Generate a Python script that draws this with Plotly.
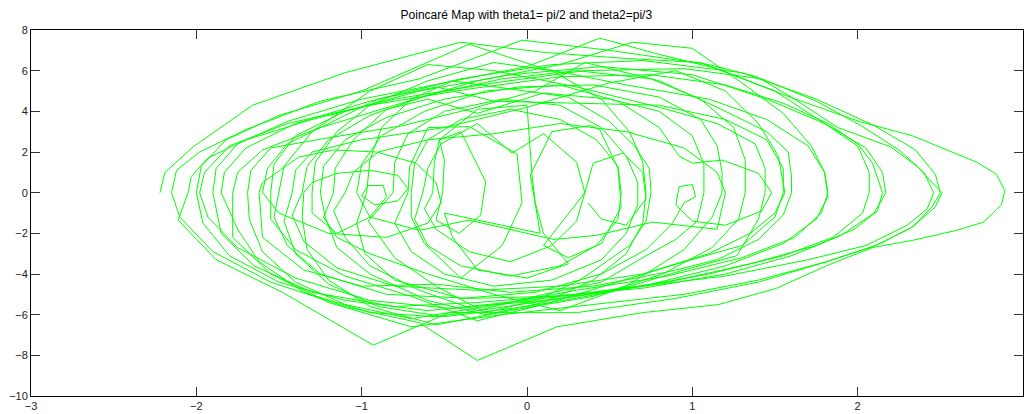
import plotly.graph_objects as go

# Trajectory, loop by loop: (theta1, omega1) pairs
loop01 = [(-2.22,0.0),(-2.19,1.0),(-2.02,2.25),(-1.66,4.3),(-1.1,5.9),(-0.4,7.4),(0.1,6.9),(0.6,6.6),(1.05,6.4),(1.59,4.7),(2.01,3.5),(2.33,2.8),(2.57,2.0),(2.72,1.5),(2.84,0.9),(2.89,0.1),(2.87,-0.6),(2.76,-1.45),(2.6,-1.85),(2.33,-2.35),(2.09,-2.7),(1.81,-3.6),(1.51,-4.7),(1.16,-5.5),(0.7,-5.9),(0.18,-6.6),(-0.3,-8.25),(-0.65,-6.4),(-1.1,-5.6),(-1.55,-4.4),(-1.9,-2.9),(-2.1,-1.2)]
loop02 = [(-2.15,0.0),(-2.12,1.1),(-1.98,2.0),(-1.7,3.1),(-1.25,4.5),(-0.65,5.6),(-0.03,7.5),(0.5,7.0),(1.1,6.3),(1.39,5.7),(1.6,4.7),(1.88,3.2),(2.2,2.25),(2.36,1.3),(2.45,0.5),(2.51,0.0),(2.47,-0.7),(2.33,-1.7),(2.11,-2.6),(1.81,-3.4),(1.4,-4.4),(0.9,-5.2),(0.3,-5.9),(-0.47,-5.9),(-0.93,-7.5),(-1.48,-4.9),(-1.88,-3.3),(-2.11,-1.35)]
loop03 = [(-2.05,0.0),(-2.03,0.8),(-1.93,1.7),(-1.7,2.6),(-1.3,3.6),(-0.8,4.6),(-0.2,5.4),(0.35,6.0),(0.95,6.1),(1.42,5.6),(1.75,4.5),(2.02,3.3),(2.25,2.1),(2.4,1.0),(2.46,0.0),(2.42,-0.8),(2.3,-1.6),(2.05,-2.6),(1.7,-3.3),(1.2,-4.1),(0.6,-4.7),(0.0,-5.3),(-0.6,-5.8),(-1.1,-5.3),(-1.5,-4.4),(-1.8,-3.1),(-1.96,-1.5)]
loop04 = [(-1.98,0.0),(-1.95,1.0),(-1.8,2.3),(-1.45,3.4),(-0.95,4.3),(-0.35,5.1),(0.2,5.7),(0.75,5.8),(1.2,5.3),(1.55,4.4),(1.82,3.4),(2.0,2.4),(2.09,1.45),(2.15,0.0),(2.12,-0.9),(1.98,-1.8),(1.75,-2.6),(1.35,-3.5),(0.85,-4.4),(0.3,-5.0),(-0.3,-5.4),(-0.8,-5.6),(-1.3,-4.9),(-1.65,-3.6),(-1.85,-2.0)]
loop05 = [(-1.9,0.0),(-1.88,1.2),(-1.75,2.4),(-1.45,3.5),(-1.0,4.6),(-0.5,5.4),(0.0,6.2),(0.44,7.6),(0.8,6.8),(1.15,6.1),(1.5,5.0),(1.8,3.4),(2.0,2.3),(2.07,1.0),(2.07,0.0),(2.03,-1.0),(1.85,-2.2),(1.55,-3.1),(1.1,-4.0),(0.55,-4.8),(-0.05,-5.5),(-0.55,-6.1),(-0.95,-5.9),(-1.35,-4.9),(-1.62,-3.4),(-1.75,-1.8)]
loop06 = [(-1.78,0.0),(-1.75,1.0),(-1.6,2.1),(-1.25,3.2),(-0.8,4.3),(-0.3,5.5),(0.2,6.3),(0.64,7.4),(1.0,7.1),(1.3,5.4),(1.55,3.9),(1.72,2.3),(1.8,1.0),(1.82,0.0),(1.78,-1.0),(1.62,-2.2),(1.3,-3.2),(0.85,-4.1),(0.3,-4.8),(-0.25,-5.6),(-0.7,-6.2),(-1.1,-5.5),(-1.4,-4.4),(-1.6,-2.9),(-1.68,-1.3)]
loop07 = [(-1.69,0.0),(-1.67,1.1),(-1.55,2.2),(-1.2,2.7),(-0.75,3.3),(-0.35,4.1),(0.05,5.0),(0.35,6.4),(0.8,5.5),(1.15,4.2),(1.45,3.0),(1.58,2.0),(1.6,0.8),(1.6,0.0),(1.55,-1.1),(1.4,-2.3),(1.15,-3.3),(0.85,-3.9),(0.4,-4.6),(-0.1,-4.9),(-0.55,-4.5),(-1.0,-4.6),(-1.35,-3.8),(-1.6,-2.2)]
loop08 = [(-1.6,0.0),(-1.57,1.2),(-1.45,2.4),(-1.2,3.4),(-0.9,4.6),(-0.55,5.2),(-0.2,4.5),(0.3,4.4),(0.8,4.3),(1.2,3.6),(1.45,2.6),(1.55,1.2),(1.55,0.0),(1.5,-1.2),(1.3,-2.6),(0.95,-3.4),(0.55,-4.4),(0.1,-5.5),(-0.3,-6.3),(-0.7,-5.1),(-1.1,-4.1),(-1.4,-2.8),(-1.55,-1.3)]
loop09 = [(-1.5,0.0),(-1.47,1.3),(-1.3,3.0),(-0.95,5.0),(-0.6,6.3),(-0.2,6.0),(0.3,5.2),(0.8,4.2),(1.15,3.4),(1.38,2.4),(1.44,1.2),(1.44,0.0),(1.4,-1.3),(1.27,-3.1),(0.95,-3.8),(0.5,-4.9),(0.0,-5.6),(-0.5,-6.1),(-0.9,-5.6),(-1.2,-4.5),(-1.4,-3.0),(-1.47,-1.4)]
loop10 = [(-1.36,0.0),(-1.33,1.3),(-1.2,2.6),(-0.95,3.8),(-0.6,4.8),(-0.15,5.6),(0.3,6.0),(0.75,5.6),(1.05,4.6),(1.25,3.2),(1.32,1.6),(1.32,0.0),(1.28,-1.3),(1.12,-2.7),(0.82,-4.0),(0.4,-5.1),(-0.1,-5.8),(-0.55,-6.5),(-0.95,-5.6),(-1.2,-4.3),(-1.33,-2.8),(-1.36,-1.2)]
loop11 = [(-1.3,0.0),(-1.28,1.5),(-1.15,3.0),(-0.95,4.3),(-0.6,5.5),(-0.2,6.4),(0.15,6.0),(0.45,4.6),(0.62,3.0),(0.7,1.5),(0.72,0.0),(0.7,-1.5),(0.6,-3.0),(0.4,-4.3),(0.1,-5.4),(-0.25,-6.0),(-0.6,-5.3),(-0.95,-4.0),(-1.15,-2.7),(-1.22,-1.2)]
loop12 = [(-1.17,0.0),(-1.16,1.2),(-1.05,2.6),(-0.85,4.1),(-0.6,4.6),(-0.3,3.9),(0.1,4.9),(0.5,4.6),(0.8,4.0),(1.0,2.8),(1.07,1.4),(1.07,0.0),(1.03,-1.4),(0.9,-2.3),(0.72,-3.1),(0.45,-4.4),(0.1,-5.0),(-0.3,-5.8),(-0.65,-4.8),(-0.95,-3.6),(-1.1,-2.2),(-1.17,-0.9)]
loop13 = [(-1.03,0.0),(-1.0,1.4),(-0.88,2.8),(-0.62,4.0),(-0.25,5.0),(0.2,5.3),(0.55,4.5),(0.8,3.2),(0.92,1.8),(1.0,1.45),(1.18,1.6),(1.4,0.95),(1.48,0.0),(1.42,-0.9),(1.2,-1.6),(1.0,-1.4),(0.9,-0.6),(0.92,0.3),(1.0,0.4),(1.02,-0.2),(0.95,-0.5),(0.88,-1.5),(0.72,-2.8),(0.45,-4.0),(0.05,-4.9),(-0.4,-5.2),(-0.8,-4.3),(-0.98,-3.0),(-1.03,-1.5)]
loop14 = [(-0.97,0.0),(-0.95,1.6),(-0.88,3.2),(-0.7,4.6),(-0.45,5.5),(-0.1,5.1),(0.25,4.7),(0.5,3.5),(0.65,2.3),(0.74,1.2),(0.75,0.0),(0.72,-1.4),(0.62,-2.6),(0.32,-4.3),(0.05,-5.3),(-0.25,-5.9),(-0.55,-4.6),(-0.8,-3.2),(-0.96,-1.4)]
loop15 = [(-0.81,0.0),(-0.8,1.5),(-0.72,2.9),(-0.5,4.0),(-0.15,4.6),(0.2,4.3),(0.45,3.2),(0.6,1.8),(0.67,0.5),(0.67,-0.6),(0.6,-2.0),(0.45,-3.3),(0.15,-4.3),(-0.2,-4.6),(-0.5,-4.0),(-0.7,-2.9),(-0.8,-1.5)]
loop16 = [(-0.7,0.0),(-0.68,1.4),(-0.6,2.6),(-0.4,3.6),(-0.1,4.1),(0.2,3.6),(0.42,2.6),(0.55,1.3),(0.57,0.0),(0.55,-1.3),(0.42,-2.6),(0.2,-3.6),(-0.1,-4.1),(-0.4,-3.6),(-0.6,-2.6),(-0.68,-1.3)]
loop17 = [(-0.63,0.0),(-0.6,1.2),(-0.52,2.4),(-0.3,3.4),(-0.09,1.95),(0.1,2.9),(0.3,1.5),(0.35,0.0),(0.3,-1.4),(0.15,-2.6),(-0.1,-3.4),(-0.35,-2.9),(-0.55,-1.8),(-0.62,-0.8)]
loop18 = [(-0.51,0.0),(-0.5,1.6),(-0.53,2.6),(-0.3,4.1),(0.0,4.3),(0.03,0.9),(0.05,-0.5),(0.1,-2.0),(0.25,-3.5),(0.0,-4.2),(-0.3,-3.8),(-0.45,-2.2),(-0.5,-1.0)]
loop19 = [(0.35,0.0),(0.4,1.45),(0.58,1.95),(0.7,1.0),(0.72,-0.3),(0.6,-1.6),(0.45,-1.3),(0.37,-0.5)]
loop20 = [(-2.0,0.0),(-1.97,1.3),(-1.82,2.6),(-1.5,3.8),(-1.0,5.0),(-0.35,7.3),(0.1,6.1),(0.6,5.3),(1.1,4.6),(1.45,3.6),(1.7,2.3),(1.8,1.0),(1.82,-0.2),(1.75,-1.3),(1.55,-2.5),(1.2,-3.6),(0.7,-4.6),(0.1,-5.3),(-0.45,-5.7),(-0.95,-5.3),(-1.4,-4.2),(-1.75,-2.7),(-1.93,-1.2)]
loop21 = [(-1.85,0.0),(-1.83,1.0),(-1.7,2.2),(-1.4,3.4),(-0.95,4.5),(-0.4,5.6),(0.15,6.3),(0.7,6.5),(1.3,5.9),(1.75,4.6),(2.1,3.3),(2.35,2.1),(2.47,0.9),(2.5,0.0),(2.45,-0.7),(2.33,-1.7),(2.11,-2.6),(1.81,-3.4),(1.4,-4.3),(0.95,-5.0),(0.4,-5.5),(-0.15,-6.0),(-0.7,-6.6),(-1.2,-5.4),(-1.55,-4.0),(-1.78,-2.2)]
loop22 = [(-1.55,0.0),(-1.53,1.4),(-1.4,2.8),(-1.1,4.0),(-0.65,5.0),(-0.1,5.8),(0.45,6.2),(1.0,5.8),(1.45,4.6),(1.8,3.4),(2.05,2.2),(2.15,1.0),(2.17,0.0),(2.1,-1.0),(1.9,-2.1),(1.6,-3.1),(1.2,-4.0),(0.7,-4.7),(0.15,-5.1),(-0.35,-5.2),(-0.85,-5.0),(-1.25,-4.0),(-1.45,-2.6),(-1.53,-1.2)]
loop23 = [(-1.42,0.0),(-1.4,1.1),(-1.3,2.0),(-1.0,2.6),(-0.5,3.2),(0.0,4.2),(0.5,5.4),(0.9,6.0),(1.2,5.0),(1.4,3.4),(1.52,1.8),(1.56,0.0),(1.5,-1.0),(1.35,-2.0),(1.1,-3.0),(0.7,-4.0),(0.2,-4.6),(-0.3,-4.8),(-0.8,-4.6),(-1.15,-3.7),(-1.35,-2.4),(-1.42,-1.1)]
loop24 = [(-1.25,0.0),(-1.23,1.3),(-1.1,2.6),(-0.85,3.7),(-0.5,4.6),(-0.05,5.2),(0.4,5.3),(0.8,4.7),(1.05,3.6),(1.15,2.3),(1.18,1.0),(1.18,0.0),(1.12,-1.2),(0.95,-2.8),(0.6,-4.6),(0.2,-5.8),(-0.2,-5.0),(-0.6,-4.0),(-0.95,-3.0),(-1.15,-2.2),(-1.23,-1.2)]
loop25 = [(-1.35,0.0),(-1.3,0.5),(-1.15,0.95),(-0.95,1.1),(-0.78,0.85),(-0.72,0.2),(-0.78,-0.4),(-0.92,-0.6),(-1.0,-0.15),(-0.96,0.35),(-0.87,0.35),(-0.85,-0.2),(-0.95,-1.2),(-1.15,-2.0),(-1.3,-1.0)]
low01 = [(-1.1,0.0),(-1.05,1.0),(-0.9,2.0),(-0.6,2.6),(-0.2,2.9),(0.2,3.4),(0.6,3.0),(0.95,2.2),(1.15,1.0),(1.2,0.0),(1.15,-1.8),(0.76,-1.45),(0.42,-2.1),(0.16,-2.3),(-0.35,-1.35),(-0.65,-1.85),(-0.95,-1.2)]
low02 = [(-1.62,0.0),(-1.6,0.5),(-1.38,1.75),(-1.17,2.1),(-0.91,2.0),(-0.67,1.45),(-0.55,0.5),(-0.52,-0.5),(-0.6,-1.5),(-0.85,-2.2),(-1.2,-2.0),(-1.5,-1.0)]
mid01 = [(-0.57,0.0),(-0.56,1.5),(-0.53,2.6),(-0.4,3.0),(-0.25,0.54),(-0.28,-1.1),(-0.41,-2.0),(-0.55,-1.35)]
mid02 = [(-0.72,0.0),(-0.71,1.27),(-0.6,3.2),(-0.35,3.25),(-0.06,1.9),(-0.03,-0.5),(-0.15,-2.6),(-0.4,-4.2),(-0.62,-2.5),(-0.7,-1.2)]
mid03 = [(0.08,-2.0),(0.02,0.87),(0.15,3.0),(0.38,3.3),(0.44,3.1),(0.55,1.2),(0.57,-0.7),(0.45,-2.5),(0.25,-3.2),(0.1,-2.6)]

loop_order = [loop01, loop02, loop03, loop20, loop04, loop05, loop21, loop06, loop07,
              low02, loop08, loop22, loop09, loop23, loop10, loop25, loop11, loop24,
              loop12, low01, loop13, loop14, loop15, mid02, loop16, loop17, mid01,
              loop18, mid03, loop19]

theta1 = [p[0] for lp in loop_order for p in lp]
omega1 = [p[1] for lp in loop_order for p in lp]

fig = go.Figure()
fig.add_trace(go.Scatter(x=theta1, y=omega1, mode="lines",
                         line=dict(color="#00ff00", width=1), showlegend=False,
                         hoverinfo="skip"))

axis_common = dict(showgrid=False, zeroline=False, showline=True, linecolor="#000000",
                   linewidth=1, mirror="allticks", ticks="inside", ticklen=9,
                   tickcolor="#333333", tickwidth=1,
                   tickfont=dict(family="Liberation Sans, Arial, sans-serif", size=11, color="#222222"))

fig.update_layout(
    width=1025, height=414,
    margin=dict(l=31, r=2, t=30, b=18),
    paper_bgcolor="white", plot_bgcolor="white",
    title=dict(text="Poincaré Map with theta1= pi/2 and theta2=pi/3",
               x=0.5135, xanchor="center", y=0.965, yanchor="middle",
               font=dict(family="Liberation Sans, Arial, sans-serif", size=12, color="#000000")),
    xaxis=dict(range=[-3, 3], tickvals=[-3, -2, -1, 0, 1, 2, 3], **axis_common),
    yaxis=dict(range=[-10, 8], tickvals=[-10, -8, -6, -4, -2, 0, 2, 4, 6, 8], **axis_common),
)

fig.write_html("out.html")
